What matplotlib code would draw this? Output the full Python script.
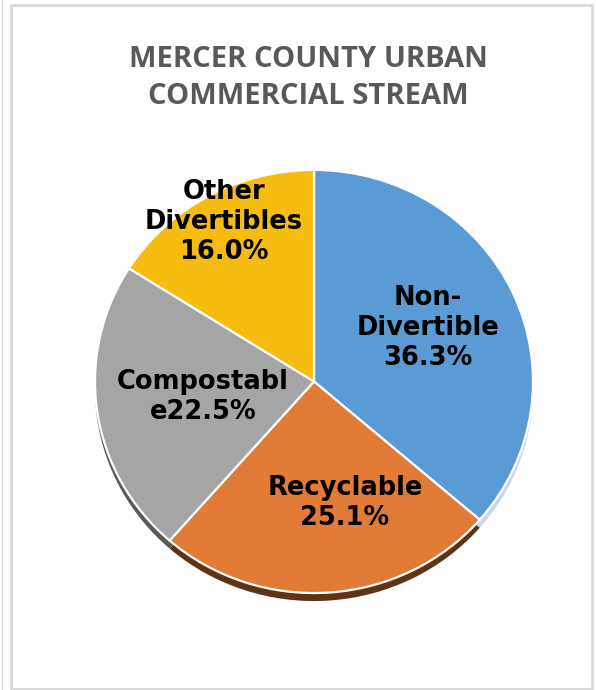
import matplotlib.pyplot as plt
from matplotlib.patches import Rectangle

labels = ["Non-\nDivertible", "Recyclable", "Compostabl\ne", "Other\nDivertibles"]
shares = [36.3, 25.1, 22.5, 16.0]
colors = ["#5B9BD5", "#E27B36", "#A5A5A5", "#F6BC10"]
shadow_colors = ["#C9D6E3", "#5E3416", "#5A5A5A", "#8A6A05"]
title = "MERCER COUNTY URBAN\nCOMMERCIAL STREAM"

# label anchors (pixels from top-left) and line breaks between name and value
label_pos = [(428, 328), (345, 503), (203, 397), (224, 222)]
label_sep = ["\n", "\n", "", "\n"]

W, H = 596, 690
SQ = 0.966  # slight vertical squash of the pie

fig = plt.figure(figsize=(W / 100, H / 100), dpi=100)
ax = fig.add_axes([0, 0, 1, 1])

# panel frames
fig.patches.append(Rectangle((2 / W, 0), 1 / W, 1, transform=fig.transFigure,
                             facecolor="#D9D9D9", edgecolor="none"))
fig.patches.append(Rectangle((10.5 / W, 1.5 / H), 581 / W, (H - 6) / H,
                             transform=fig.transFigure, facecolor="none",
                             edgecolor="#D9D9D9", linewidth=2))

cx, cy, r = 314, (H - 381.5) / SQ, 219

# dark rim under the pie
ax.pie(shares, colors=shadow_colors, startangle=90, counterclock=False,
       radius=r, center=(cx, cy - 8 / SQ), frame=True,
       wedgeprops=dict(edgecolor="none"))
ax.pie(shares, colors=colors, startangle=90, counterclock=False,
       radius=r, center=(cx, cy), frame=True,
       wedgeprops=dict(edgecolor="white", linewidth=1.6))
ax.set_xlim(0, W)
ax.set_ylim(0, H / SQ)
ax.set_aspect("auto")
ax.axis("off")

for lab, val, (px, py), sep in zip(labels, shares, label_pos, label_sep):
    ax.text(px, (H - py) / SQ, f"{lab}{sep}{val:.1f}%", ha="center", va="center",
            fontsize=18.5, fontweight="bold", color="black", family="DejaVu Sans",
            linespacing=1.22)

ax.text(308, (H - 78) / SQ, title, ha="center", va="center", fontsize=21,
        fontweight="bold", color="#595959", family="Open Sans", linespacing=1.35)

fig.savefig("out.png", dpi=100, facecolor="white")
